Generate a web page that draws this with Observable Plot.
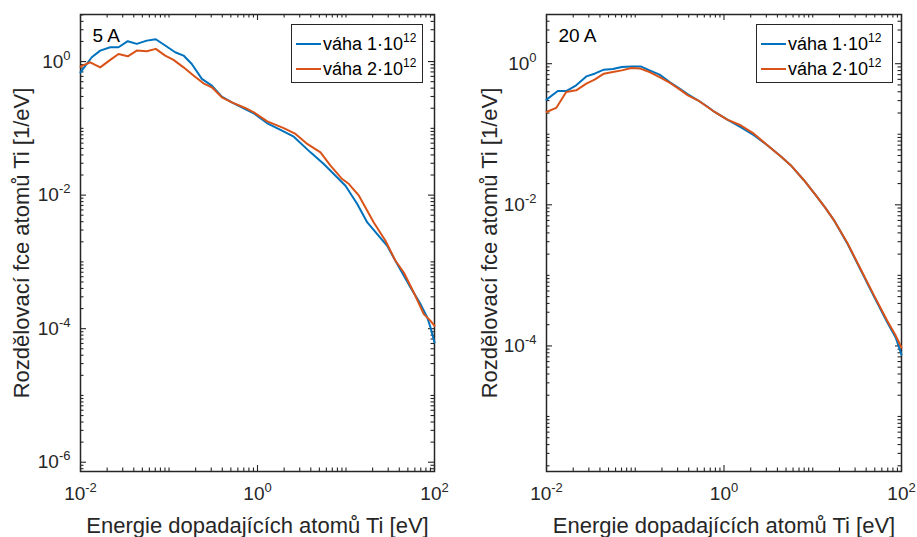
<!DOCTYPE html>
<html><head><meta charset="utf-8">
<script src="https://cdn.jsdelivr.net/npm/d3@7"></script>
<script src="https://cdn.jsdelivr.net/npm/@observablehq/plot@0.6"></script>
<style>
body{margin:0;background:#fff;}
#wrap{position:relative;width:917px;height:537px;overflow:hidden;font-family:"Liberation Sans",Arial,sans-serif;color:#262626;background:#fff;}
.panel{position:absolute;top:0;}
.legend{position:absolute;background:#fff;border:1.3px solid #262626;box-sizing:border-box;font-size:18px;color:#000;}
.row{position:absolute;left:0;height:24px;display:flex;align-items:center;white-space:nowrap;}
.sw{display:inline-block;width:25px;height:0;border-top:2px solid;margin:0 2px 0 4px;}
.row sup{font-size:12px;vertical-align:0;position:relative;top:-8px;}
</style></head><body><div id="wrap"></div>
<script>
// ---- data ----
const energy5A_w1 = [0.01, 0.0134, 0.0167, 0.0217, 0.0269, 0.0342, 0.0432, 0.0561, 0.0709, 0.0906, 0.1175, 0.146, 0.181, 0.235, 0.305, 0.395, 0.513, 0.726, 0.908, 1.29, 1.82, 2.57, 3.97, 5.61, 9.87, 13.4, 17.4, 29.2, 37.9, 53.6, 69.5, 82.8, 90.2, 100];
const dist5A_w1 = [0.69, 1.16, 1.46, 1.64, 1.64, 2.02, 1.84, 2.06, 2.16, 1.74, 1.38, 1.23, 0.92, 0.55, 0.437, 0.299, 0.245, 0.195, 0.168, 0.119, 0.0946, 0.075, 0.0437, 0.0292, 0.01384, 0.00736, 0.0039, 0.00174, 0.000926, 0.000413, 0.000233, 0.000147, 0.000104, 6.2e-5];
const energy5A_w2 = [0.01, 0.01288, 0.0167, 0.0217, 0.0269, 0.0342, 0.0432, 0.0561, 0.0709, 0.0906, 0.1125, 0.146, 0.189, 0.245, 0.305, 0.395, 0.513, 0.726, 0.908, 1.29, 1.98, 2.69, 3.65, 5.15, 6.68, 9.06, 10.8, 14.0, 20.6, 27.9, 36.2, 45.0, 58.3, 75.7, 90.2, 100];
const dist5A_w2 = [0.84, 0.976, 0.82, 1.06, 1.30, 1.20, 1.46, 1.43, 1.55, 1.23, 1.06, 0.82, 0.617, 0.473, 0.412, 0.292, 0.245, 0.202, 0.174, 0.127, 0.101, 0.0824, 0.0584, 0.0437, 0.0276, 0.0174, 0.01466, 0.0098, 0.0039, 0.00207, 0.00104, 0.000693, 0.000348, 0.000165, 0.000131, 0.000110];
const energy20A_w1 = [0.01, 0.0134, 0.01667, 0.0216, 0.0281, 0.0348, 0.0443, 0.0559, 0.0706, 0.0901, 0.115, 0.145, 0.188, 0.244, 0.316, 0.392, 0.508, 0.659, 0.784, 1.09, 1.54, 2.17, 3.08, 4.35, 5.64, 7.96, 10.8, 14.0, 17.3, 24.5, 34.7, 49.0, 69.3, 86.0, 100];
const dist20A_w1 = [0.31, 0.41, 0.41, 0.493, 0.661, 0.722, 0.823, 0.839, 0.895, 0.916, 0.916, 0.804, 0.699, 0.549, 0.443, 0.368, 0.303, 0.243, 0.207, 0.161, 0.126, 0.0968, 0.0699, 0.0489, 0.0365, 0.0223, 0.0137, 0.00889, 0.00608, 0.00284, 0.00119, 0.0005, 0.000215, 0.000132, 7.5e-5];
const energy20A_w2 = [0.01, 0.01286, 0.01667, 0.0216, 0.0281, 0.0348, 0.0443, 0.0559, 0.0706, 0.0901, 0.1117, 0.145, 0.188, 0.244, 0.316, 0.392, 0.508, 0.784, 1.09, 1.54, 2.17, 3.08, 4.35, 5.64, 7.96, 10.8, 14.0, 17.3, 24.5, 34.7, 49.0, 69.3, 86.0, 100];
const dist20A_w2 = [0.207, 0.236, 0.397, 0.419, 0.521, 0.594, 0.722, 0.761, 0.804, 0.867, 0.858, 0.761, 0.646, 0.538, 0.433, 0.356, 0.303, 0.207, 0.161, 0.134, 0.102, 0.0699, 0.0489, 0.0365, 0.0223, 0.0137, 0.00889, 0.00608, 0.0029, 0.00122, 0.00052, 0.000225, 0.00014, 9.5e-5];

const panelTitles = ["5 A", "20 A"];
const seriesNames = ["váha 1·10", "váha 2·10"];
const seriesExp = ["12", "12"];
const xTicks = [1e-2, 1e0, 1e2];
const yTicks5A = [1e-6, 1e-4, 1e-2, 1e0];
const yTicks20A = [1e-4, 1e-2, 1e0];
const xDomain = [0.01, 100];
const yDomain5A = [7.26e-7, 5.07];
const yDomain20A = [1.66e-6, 4.98];
const xLabel = "Energie dopadajících atomů Ti [eV]";
const yLabel = "Rozdělovací fce atomů Ti [1/eV]";

const BLUE = "#0072BD", ORANGE = "#D95319", INK = "#262626";
const zip = (e, f) => e.map((v, i) => ({e: v, f: f[i]}));

function minorTicks(domain, skip) {
  const out = [];
  for (let k = -8; k <= 2; k++) for (let d = 1; d <= 9; d++) {
    const v = d * Math.pow(10, k);
    const lv = Math.log10(v);
    if (lv >= Math.log10(domain[0]) - 1e-9 && lv <= Math.log10(domain[1]) + 1e-9 &&
        !skip.some(s => Math.abs(Math.log10(s) - lv) < 1e-9)) out.push(v);
  }
  return out;
}
const supFmt = d => "10^" + Math.round(Math.log10(d));

const H = 537, MT = 14, MB = 66, MAJ = 6, MIN = 3.5;

function panel(o) {
  const xMinor = minorTicks(xDomain, xTicks);
  const yMinor = minorTicks(o.yDomain, o.yTicks);
  const fh = H - MT - MB, fw = o.width - o.ml - o.mr;
  const ts = {stroke: INK, strokeWidth: 1.1};
  const svg = Plot.plot({
    width: o.width, height: H,
    marginLeft: o.ml, marginRight: o.mr, marginTop: MT, marginBottom: MB,
    style: {fontFamily: '"Liberation Sans", Arial, sans-serif', fontSize: "19px", color: INK, background: "transparent", overflow: "visible"},
    x: {type: "log", domain: xDomain},
    y: {type: "log", domain: o.yDomain},
    marks: [
      Plot.frame({stroke: INK, strokeWidth: 1.5}),
      // inward ticks on all four sides
      Plot.tickX(xTicks, {x: d => d, insetTop: fh - MAJ, ...ts}),
      Plot.tickX(xTicks, {x: d => d, insetBottom: fh - MAJ, ...ts}),
      Plot.tickX(xMinor, {x: d => d, insetTop: fh - MIN, ...ts}),
      Plot.tickX(xMinor, {x: d => d, insetBottom: fh - MIN, ...ts}),
      Plot.tickY(o.yTicks, {y: d => d, insetRight: fw - MAJ, ...ts}),
      Plot.tickY(o.yTicks, {y: d => d, insetLeft: fw - MAJ, ...ts}),
      Plot.tickY(yMinor, {y: d => d, insetRight: fw - MIN, ...ts}),
      Plot.tickY(yMinor, {y: d => d, insetLeft: fw - MIN, ...ts}),
      // tick labels and axis labels
      Plot.axisX(xTicks, {anchor: "bottom", tickSize: 0, tickPadding: 15, tickFormat: supFmt, fill: INK, label: null, fontSize: 19}),
      Plot.axisX([], {anchor: "bottom", tickSize: 0, fill: INK, label: xLabel, labelAnchor: "center", labelArrow: "none", labelOffset: 61, fontSize: 22}),
      Plot.axisY(o.yTicks, {anchor: "left", tickSize: 0, tickPadding: 10, tickFormat: supFmt, fill: INK, label: null, fontSize: 19}),
      Plot.axisY([], {anchor: "left", tickSize: 0, fill: INK, label: yLabel, labelAnchor: "center", labelArrow: "none", labelOffset: o.ylo, fontSize: 22}),
      // data
      Plot.line(o.s1, {x: "e", y: "f", stroke: BLUE, strokeWidth: 2}),
      Plot.line(o.s2, {x: "e", y: "f", stroke: ORANGE, strokeWidth: 2}),
      Plot.text([o.title], {frameAnchor: "top-left", dx: 12, dy: 14, fontSize: 19, fill: "#000"})
    ]
  });
  // superscript exponents in tick labels
  svg.querySelectorAll("text").forEach(t => {
    const m = /^10\^(-?\d+)$/.exec(t.textContent);
    if (!m) return;
    t.textContent = "10";
    const sp = document.createElementNS("http://www.w3.org/2000/svg", "tspan");
    sp.setAttribute("dy", "-8");
    sp.setAttribute("font-size", "13");
    sp.textContent = m[1];
    t.appendChild(sp);
  });
  return svg;
}

const wrap = document.getElementById("wrap");
const cfgs = [
  {left: 0, width: 458, ml: 80, mr: 24, ylo: 67, yDomain: yDomain5A, yTicks: yTicks5A,
   s1: zip(energy5A_w1, dist5A_w1), s2: zip(energy5A_w2, dist5A_w2), title: panelTitles[0],
   leg: {left: 291, top: 24, w: 132, h: 59}},
  {left: 458, width: 459, ml: 88, mr: 16, ylo: 65, yDomain: yDomain20A, yTicks: yTicks20A,
   s1: zip(energy20A_w1, dist20A_w1), s2: zip(energy20A_w2, dist20A_w2), title: panelTitles[1],
   leg: {left: 756, top: 24, w: 137, h: 59}}
];
cfgs.forEach(c => {
  const div = document.createElement("div");
  div.className = "panel";
  div.style.left = c.left + "px";
  div.appendChild(panel(c));
  wrap.appendChild(div);
  const lg = document.createElement("div");
  lg.className = "legend";
  Object.assign(lg.style, {left: c.leg.left + "px", top: c.leg.top + "px", width: c.leg.w + "px", height: c.leg.h + "px"});
  [BLUE, ORANGE].forEach((col, i) => {
    const r = document.createElement("div");
    r.className = "row";
    r.style.top = (7 + i * 25) + "px";
    const sw = document.createElement("span");
    sw.className = "sw"; sw.style.borderColor = col;
    r.appendChild(sw);
    const tx = document.createElement("span");
    tx.textContent = seriesNames[i];
    const sp = document.createElement("sup");
    sp.textContent = seriesExp[i];
    tx.appendChild(sp);
    r.appendChild(tx);
    lg.appendChild(r);
  });
  wrap.appendChild(lg);
});
</script>
</body></html>
